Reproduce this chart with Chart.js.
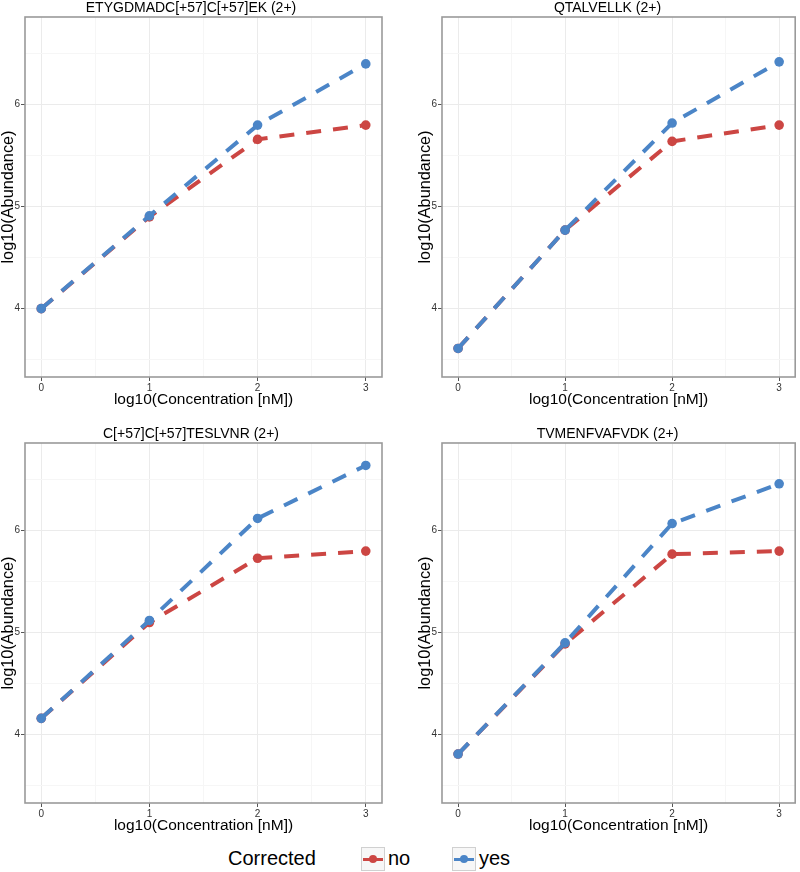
<!DOCTYPE html>
<html>
<head>
<meta charset="utf-8">
<script src="https://cdn.jsdelivr.net/npm/chart.js@4"></script>
<style>
  body { margin: 0; background: #fff; font-family: 'Liberation Sans', Arial, sans-serif; }
  #root { position: relative; width: 800px; height: 872px; overflow: hidden; }
  .panel { position: absolute; width: 400px; height: 420px; }
  .legend { position: absolute; top: 845px; left: 0; width: 800px; height: 27px; }
  .legend span { position: absolute; font-size: 20px; color: #000; line-height: 27px; }
  .key { position: absolute; top: 2px; width: 22px; height: 22px; border: 1px solid #d0d0d0; background: #f7f7f7; }
  .key i { position: absolute; left: 1px; right: 1px; top: 10px; height: 3px; }
  .key b { position: absolute; left: 7px; top: 7px; width: 8px; height: 8px; border-radius: 50%; }
</style>
</head>
<body>
<div id="root">
  <div class="panel" style="left:0;top:0"><canvas id="c0"></canvas></div>
  <div class="panel" style="left:400px;top:0"><canvas id="c1"></canvas></div>
  <div class="panel" style="left:0;top:420px"><canvas id="c2"></canvas></div>
  <div class="panel" style="left:400px;top:420px"><canvas id="c3"></canvas></div>
  <div class="legend" id="legend"></div>
</div>
<script>
// datos
const concentracion = [0, 1, 2, 3];
const peptidos = ['ETYGDMADC[+57]C[+57]EK (2+)', 'QTALVELLK (2+)', 'C[+57]C[+57]TESLVNR (2+)', 'TVMENFVAFVDK (2+)'];
const corregidoNo = [
  [4.00, 4.90, 5.66, 5.80],
  [3.61, 4.77, 5.64, 5.80],
  [4.16, 5.10, 5.73, 5.80],
  [3.81, 4.89, 5.77, 5.80]
];
const corregidoSi = [
  [4.00, 4.91, 5.80, 6.40],
  [3.61, 4.77, 5.82, 6.42],
  [4.16, 5.12, 6.12, 6.64],
  [3.81, 4.90, 6.07, 6.46]
];
const xTicks = [0, 1, 2, 3];
const xMinor = [0.5, 1.5, 2.5];
const yTicks = [4, 5, 6];
const yMinor = [3.5, 4.5, 5.5, 6.5];
const grupos = ['no', 'yes'];
const tituloLeyenda = 'Corrected';

const colorNo = '#cc4643';
const colorSi = '#4b85c7';

// margenes de cada panel
const margenes = [
  { left: 0, right: 18, titleTop: 0, bottom: 11, yWidth: 25 },
  { left: 17, right: 2, titleTop: 0, bottom: 11, yWidth: 25 },
  { left: 0, right: 18, titleTop: 6, bottom: 5, yWidth: 25 },
  { left: 17, right: 2, titleTop: 6, bottom: 5, yWidth: 25 }
];

const bordePanel = {
  id: 'bordePanel',
  afterDraw(chart) {
    const { ctx, chartArea: a } = chart;
    ctx.save();
    ctx.strokeStyle = '#9a9a9a';
    ctx.lineWidth = 1.6;
    ctx.strokeRect(a.left, a.top, a.right - a.left, a.bottom - a.top);
    ctx.restore();
  }
};

function esMayor(v, lista) {
  return lista.includes(v);
}

function crearPanel(i) {
  const m = margenes[i];
  const ctx = document.getElementById('c' + i);
  const puntos = arr => concentracion.map((x, k) => ({ x, y: arr[k] }));
  const serie = (label, datos, color, orden) => ({
    label,
    data: puntos(datos),
    showLine: true,
    borderColor: color,
    backgroundColor: color,
    borderWidth: 4,
    borderDash: [15, 12],
    borderCapStyle: 'butt',
    pointRadius: 4.8,
    pointBorderWidth: 0,
    pointHoverRadius: 4.8,
    tension: 0,
    order: orden
  });

  return new Chart(ctx, {
    type: 'scatter',
    data: {
      datasets: [
        serie(grupos[0], corregidoNo[i], colorNo, 1),
        serie(grupos[1], corregidoSi[i], colorSi, 0)
      ]
    },
    options: {
      responsive: true,
      maintainAspectRatio: false,
      animation: false,
      events: [],
      layout: { padding: { left: m.left, right: m.right, top: 0, bottom: m.bottom } },
      plugins: {
        legend: { display: false },
        tooltip: { enabled: false },
        title: {
          display: true,
          text: peptidos[i],
          color: '#000',
          font: { family: 'Liberation Sans', size: 14, weight: 'normal', lineHeight: 1.2 },
          padding: { top: m.titleTop, bottom: 0.2 }
        }
      },
      scales: {
        x: {
          type: 'linear',
          min: -0.15,
          max: 3.15,
          afterBuildTicks: s => { s.ticks = [...xTicks, ...xMinor].sort((a, b) => a - b).map(v => ({ value: v })); },
          afterFit: s => { s.height = 32; },
          border: { display: false },
          grid: {
            color: c => esMayor(c.tick.value, xTicks) ? '#ebebeb' : '#f6f6f6',
            lineWidth: 1,
            tickLength: 4,
            tickColor: c => esMayor(c.tick.value, xTicks) ? '#555' : 'rgba(0,0,0,0)'
          },
          ticks: {
            autoSkip: false,
            maxRotation: 0,
            padding: 1,
            color: '#333',
            font: { family: 'Liberation Sans', size: 10 },
            callback: v => esMayor(v, xTicks) ? String(v) : ''
          },
          title: {
            display: true,
            text: 'log10(Concentration [nM])',
            color: '#000',
            padding: 0,
            font: { family: 'Liberation Sans', size: 15.5, lineHeight: 1.2 }
          }
        },
        y: {
          type: 'linear',
          min: 3.33,
          max: 6.86,
          afterBuildTicks: s => { s.ticks = [...yTicks, ...yMinor].sort((a, b) => a - b).map(v => ({ value: v })); },
          afterFit: s => { s.width = m.yWidth; },
          border: { display: false },
          grid: {
            color: c => esMayor(c.tick.value, yTicks) ? '#ebebeb' : '#f6f6f6',
            lineWidth: 1,
            tickLength: 4,
            tickColor: c => esMayor(c.tick.value, yTicks) ? '#555' : 'rgba(0,0,0,0)'
          },
          ticks: {
            autoSkip: false,
            padding: 1,
            color: '#333',
            font: { family: 'Liberation Sans', size: 10 },
            callback: v => esMayor(v, yTicks) ? String(v) : ''
          },
          title: {
            display: true,
            text: 'log10(Abundance)',
            color: '#000',
            padding: 0,
            font: { family: 'Liberation Sans', size: 16.3, lineHeight: 1 }
          }
        }
      }
    },
    plugins: [bordePanel]
  });
}

peptidos.forEach((p, i) => crearPanel(i));

// leyenda
const legend = document.getElementById('legend');
function agregar(html) {
  legend.insertAdjacentHTML('beforeend', html);
}
agregar(`<span style="left:228px">${tituloLeyenda}</span>`);
agregar(`<div class="key" style="left:361px"><i style="background:${colorNo}"></i><b style="background:${colorNo}"></b></div>`);
agregar(`<span style="left:388px">${grupos[0]}</span>`);
agregar(`<div class="key" style="left:452px"><i style="background:${colorSi}"></i><b style="background:${colorSi}"></b></div>`);
agregar(`<span style="left:479px">${grupos[1]}</span>`);
</script>
</body>
</html>
